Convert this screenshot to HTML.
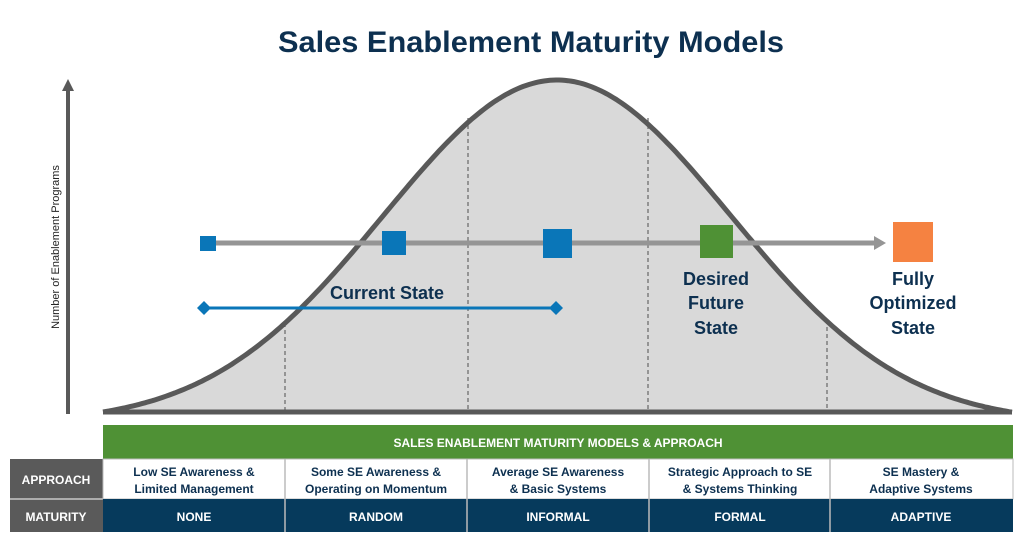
<!DOCTYPE html>
<html><head><meta charset="utf-8"><style>
html,body{margin:0;padding:0;background:#fff;}
svg{display:block;font-family:"Liberation Sans",Arial,sans-serif;}
</style></head><body>
<svg width="1024" height="543" viewBox="0 0 1024 543" xmlns="http://www.w3.org/2000/svg">
<text x="531" y="52" text-anchor="middle" font-size="30" font-weight="bold" fill="#0d3050" textLength="506" lengthAdjust="spacingAndGlyphs">Sales Enablement Maturity Models</text>
<path id="fill" fill="#d9d9d9" stroke="none" d=""/>
<g stroke="#666" stroke-width="1.2" stroke-dasharray="4,3">
<line x1="285" y1="323" x2="285" y2="411"/>
<line x1="468" y1="118" x2="468" y2="411"/>
<line x1="648" y1="118" x2="648" y2="411"/>
<line x1="827" y1="320" x2="827" y2="411"/>
</g>
<path id="curve" fill="none" stroke="#595959" stroke-width="5" d=""/>
<line x1="103" y1="412" x2="1012" y2="412" stroke="#595959" stroke-width="5"/>
<line x1="68" y1="88" x2="68" y2="414" stroke="#595959" stroke-width="4"/>
<polygon points="68,79 62,91 74,91" fill="#595959"/>
<text transform="translate(59,247) rotate(-90)" text-anchor="middle" font-size="11" fill="#222">Number of Enablement Programs</text>
<line x1="208" y1="243" x2="876" y2="243" stroke="#959595" stroke-width="5"/>
<polygon points="886,243 874,236 874,250" fill="#959595"/>
<rect x="200" y="236" width="16" height="15" fill="#0a76b8"/>
<rect x="382" y="231" width="24" height="24" fill="#0a76b8"/>
<rect x="543" y="229" width="29" height="29" fill="#0a76b8"/>
<rect x="700" y="225" width="33" height="33" fill="#4f9135"/>
<rect x="893" y="222" width="40" height="40" fill="#f58241"/>
<line x1="204" y1="308" x2="556" y2="308" stroke="#0a76b8" stroke-width="3"/>
<polygon points="204,301 211,308 204,315 197,308" fill="#0a76b8"/>
<polygon points="556,301 563,308 556,315 549,308" fill="#0a76b8"/>
<g font-weight="bold" fill="#0d3050" font-size="18" text-anchor="middle">
<text x="387" y="299">Current State</text>
<text x="716" y="285">Desired</text>
<text x="716" y="309">Future</text>
<text x="716" y="334">State</text>
<text x="913" y="285">Fully</text>
<text x="913" y="309">Optimized</text>
<text x="913" y="334">State</text>
</g>
<rect x="103" y="425" width="910" height="34" fill="#4f9135"/>
<text x="558" y="447" text-anchor="middle" font-size="12" font-weight="bold" fill="#fff">SALES ENABLEMENT MATURITY MODELS &amp; APPROACH</text>
<rect x="10" y="459" width="93" height="40" fill="#5a5a5a"/>
<rect x="10" y="499" width="93" height="33" fill="#5a5a5a"/>
<line x1="10" y1="499" x2="103" y2="499" stroke="#fff" stroke-width="1"/>
<text x="56" y="484" text-anchor="middle" font-size="12" font-weight="bold" fill="#fff">APPROACH</text>
<text x="56" y="521" text-anchor="middle" font-size="12" font-weight="bold" fill="#fff">MATURITY</text>
<rect x="103" y="459" width="910" height="40" fill="#fff" stroke="#bbb" stroke-width="1"/>
<rect x="103" y="499" width="910" height="33" fill="#063a5c"/>
<g stroke="#bbb" stroke-width="1.5">
<line x1="285" y1="459" x2="285" y2="532"/>
<line x1="467" y1="459" x2="467" y2="532"/>
<line x1="649" y1="459" x2="649" y2="532"/>
<line x1="830" y1="459" x2="830" y2="532"/>
</g>
<g font-size="12" font-weight="bold" fill="#0d3050" text-anchor="middle">
<text x="194" y="476">Low SE Awareness &amp;</text><text x="194" y="493">Limited Management</text>
<text x="376" y="476">Some SE Awareness &amp;</text><text x="376" y="493">Operating on Momentum</text>
<text x="558" y="476">Average SE Awareness</text><text x="558" y="493">&amp; Basic Systems</text>
<text x="740" y="476">Strategic Approach to SE</text><text x="740" y="493">&amp; Systems Thinking</text>
<text x="921" y="476">SE Mastery &amp;</text><text x="921" y="493">Adaptive Systems</text>
</g>
<g font-size="12" font-weight="bold" fill="#fff" text-anchor="middle">
<text x="194" y="521">NONE</text><text x="376" y="521">RANDOM</text><text x="558" y="521">INFORMAL</text><text x="740" y="521">FORMAL</text><text x="921" y="521">ADAPTIVE</text>
</g>
</svg>
<script>
(function(){
var pts=[],s2=2*30000,c=Math.exp(-454*454/s2);
for(var x=103;x<=1012;x+=3){
var f=(Math.exp(-Math.pow(x-557,2)/s2)-c)/(1-c);
var y=412-332*f;
pts.push(x.toFixed(1)+","+y.toFixed(1));
}
var d="M"+pts.join(" L");
document.getElementById("curve").setAttribute("d",d);
document.getElementById("fill").setAttribute("d",d+" L1012,412 L103,412 Z");
})();
</script>
</body></html>
